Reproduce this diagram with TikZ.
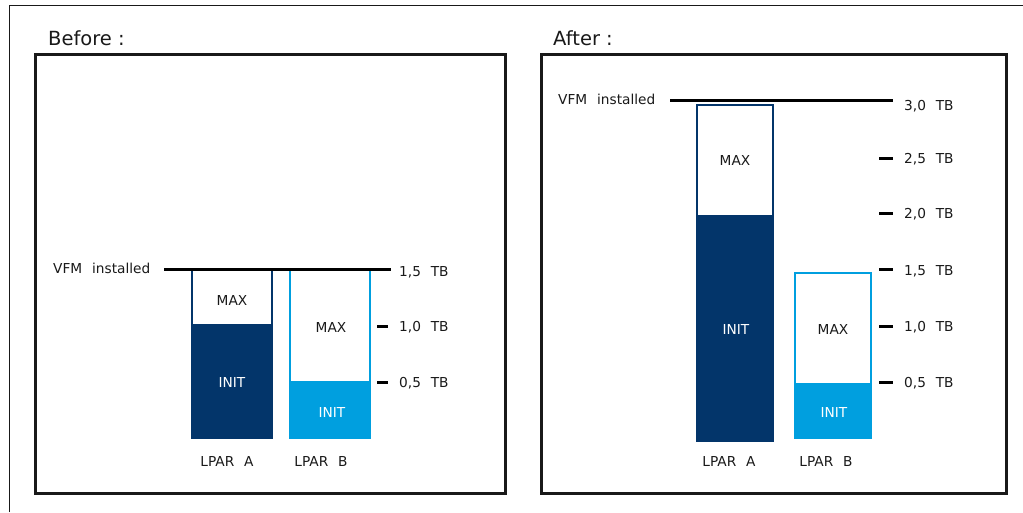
\documentclass[tikz,border=0pt]{standalone}
\usepackage{fontspec}
\setmainfont{DejaVu Sans}
\definecolor{navy}{HTML}{03356A}
\definecolor{sky}{HTML}{009FDF}
\newcommand\wgap{\hspace{0.72em}}
\begin{document}
\begin{tikzpicture}[x=1pt,y=-1pt,
  lbl/.style={font=\fontsize{13.7}{16}\selectfont, inner sep=0pt, text=black!90},
  wlbl/.style={lbl, text=white},
  ttl/.style={font=\fontsize{19.5}{23}\selectfont, inner sep=0pt, anchor=base west, text=black!90},
  panel/.style={draw=black!90, line width=3pt},
  vfmline/.style={draw=black, line width=2.6pt},
  tickmark/.style={draw=black, line width=3pt},
  navybar/.style={fill=navy},
  skybar/.style={fill=sky},
  navyedge/.style={draw=navy, line width=2.6pt},
  skyedge/.style={draw=sky, line width=2.6pt}]
\useasboundingbox (0,0) rectangle (1023,512);
\draw[line width=1pt, black!90] (9,512) -- (9,5) -- (1023,5);

% ---------- Before ----------
\node[ttl] (tb) at (48,45) {Before :};
\draw[panel] (35,54.7) rectangle (505,493.3);

\node[lbl, anchor=base west] (vfm1) at (53,273) {VFM\wgap installed};
\coordinate (v1a) at (164,269.3);
\coordinate (v1b) at (391,269.3);

% LPAR A
\fill[navybar] (192,324) rectangle (272,438);
\draw[navyedge] (192,270) rectangle (272,438);
% LPAR B
\fill[skybar] (290,381) rectangle (370,438);
\draw[skyedge] (290,270) rectangle (370,438);
\draw[vfmline] (v1a) -- (v1b);

\node[lbl, anchor=base] (maxa1) at (232,305) {MAX};
\node[wlbl, anchor=base] (inita1) at (232,387) {INIT};
\node[lbl, anchor=base] (maxb1) at (331,332) {MAX};
\node[wlbl, anchor=base] (initb1) at (332,417) {INIT};
\node[lbl, anchor=base] (la1) at (227,466) {LPAR\wgap A};
\node[lbl, anchor=base] (lb1) at (321,466) {LPAR\wgap B};

\coordinate (t1a) at (377,326); \coordinate (t1b) at (388,326);
\coordinate (t1c) at (377,382); \coordinate (t1d) at (388,382);
\draw[tickmark] (t1a) -- (t1b);
\draw[tickmark] (t1c) -- (t1d);
\node[lbl, anchor=base west] (s15a) at (399,276) {1,5\wgap TB};
\node[lbl, anchor=base west] (s10a) at (399,331) {1,0\wgap TB};
\node[lbl, anchor=base west] (s05a) at (399,387) {0,5\wgap TB};

% ---------- After ----------
\node[ttl] (ta) at (553,45) {After :};
\draw[panel] (541.3,54.7) rectangle (1006.8,493.3);

\node[lbl, anchor=base west] (vfm2) at (558,104) {VFM\wgap installed};
\coordinate (v2a) at (670,100.3);
\coordinate (v2b) at (893,100.3);

% LPAR A
\fill[navybar] (697,215) rectangle (773,441);
\draw[navyedge] (697,105) rectangle (773,441);
% LPAR B
\fill[skybar] (795,383) rectangle (871,438);
\draw[skyedge] (795,273) rectangle (871,438);
\draw[vfmline] (v2a) -- (v2b);

\node[lbl, anchor=base] (maxa2) at (735,165) {MAX};
\node[wlbl, anchor=base] (inita2) at (736,334) {INIT};
\node[lbl, anchor=base] (maxb2) at (833,334) {MAX};
\node[wlbl, anchor=base] (initb2) at (834,417) {INIT};
\node[lbl, anchor=base] (la2) at (729,466) {LPAR\wgap A};
\node[lbl, anchor=base] (lb2) at (826,466) {LPAR\wgap B};

\foreach \yy/\nm in {158/a,213/b,269/c,326/d,382/e}{
  \coordinate (t2\nm1) at (879,\yy); \coordinate (t2\nm2) at (893,\yy);
  \draw[tickmark] (t2\nm1) -- (t2\nm2);
}
\node[lbl, anchor=base west] (s30b) at (904,110) {3,0\wgap TB};
\node[lbl, anchor=base west] (s25b) at (904,163) {2,5\wgap TB};
\node[lbl, anchor=base west] (s20b) at (904,218) {2,0\wgap TB};
\node[lbl, anchor=base west] (s15b) at (904,275) {1,5\wgap TB};
\node[lbl, anchor=base west] (s10b) at (904,331) {1,0\wgap TB};
\node[lbl, anchor=base west] (s05b) at (904,387) {0,5\wgap TB};
\end{tikzpicture}
\end{document}
